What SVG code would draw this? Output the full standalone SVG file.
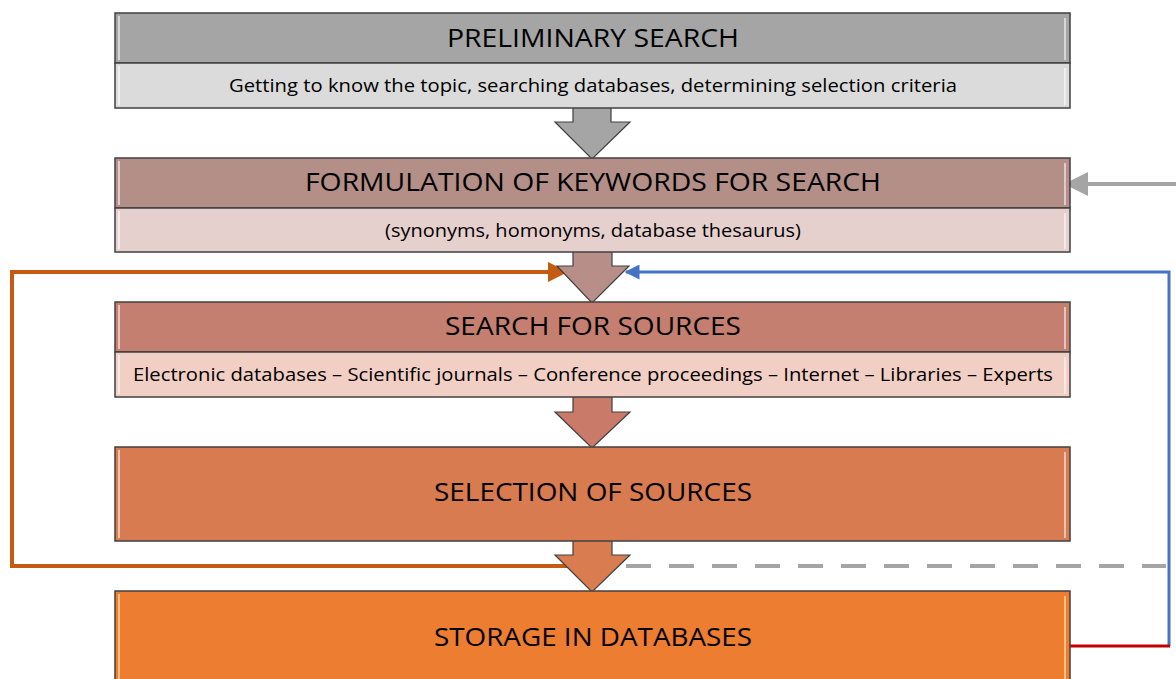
<svg xmlns="http://www.w3.org/2000/svg" width="1176" height="679" viewBox="0 0 1176 679">
<style>
.box{stroke:#404040;stroke-width:1.5}
.hl{fill:#ffffff;opacity:0.55}
.h{font-family:"Open Sans","Noto Sans",sans-serif;font-size:25px;fill:#000000;text-anchor:middle}
.s{font-family:"Open Sans","Noto Sans",sans-serif;font-size:18px;fill:#000000;text-anchor:middle}
.arr{stroke:#404040;stroke-width:1.2}
</style>
<defs>
<marker id="mGray" markerWidth="6" markerHeight="6" refX="5" refY="3" orient="auto" markerUnits="strokeWidth"><path d="M0,0 L6,3 L0,6 Z" fill="#a5a5a5"/></marker>
<marker id="mOr" markerWidth="5" markerHeight="5" refX="4.5" refY="2.5" orient="auto" markerUnits="strokeWidth"><path d="M0,0 L5,2.5 L0,5 Z" fill="#c55a11"/></marker>
<marker id="mBl" markerWidth="5" markerHeight="5" refX="4.5" refY="2.5" orient="auto" markerUnits="strokeWidth"><path d="M0,0 L5,2.5 L0,5 Z" fill="#4472c4"/></marker>
</defs>

<g id="connectors">
<line x1="1176" y1="184" x2="1068" y2="184" stroke="#a5a5a5" stroke-width="4" marker-end="url(#mGray)"/>
<polyline points="567,566 12,566 12,272 566,272" fill="none" stroke="#c55a11" stroke-width="4" marker-end="url(#mOr)"/>
<polyline points="1169,646 1169,272 626,272" fill="none" stroke="#4472c4" stroke-width="3" marker-end="url(#mBl)"/>
<line x1="1070" y1="646" x2="1170" y2="646" stroke="#c00000" stroke-width="3"/>
<line x1="626" y1="566" x2="1166" y2="566" stroke="#a5a5a5" stroke-width="4" stroke-dasharray="25,18"/>
</g>

<g id="arrow1">
<polygon class="arr" points="573,106 611,106 611,122 630,122 592,159 555,122 573,122" fill="#a5a5a5"/>
</g>
<g id="arrow2">
<polygon class="arr" points="573,250 612,250 612,266 629,266 592,303 557,266 573,266" fill="#b88e88"/>
</g>
<g id="arrow3">
<polygon class="arr" points="573,395 612,395 612,412 630,412 592,448 555,412 573,412" fill="#c97a68"/>
</g>
<g id="arrow4">
<polygon class="arr" points="573,539 612,539 612,555 630,555 592,592 555,555 573,555" fill="#d97d50"/>
</g>

<g id="node1">
<rect class="box" x="115" y="13" width="955" height="50" fill="#a5a5a5"/>
<rect class="box" x="115" y="63" width="955" height="45" fill="#dbdbdb"/>
<rect class="hl" x="118" y="16" width="2" height="44"/><rect class="hl" x="1064" y="18" width="2" height="42"/>
<rect class="hl" x="118" y="66" width="2" height="39"/><rect class="hl" x="1064" y="68" width="2" height="37"/>
<text class="h" x="593" y="47" textLength="292" lengthAdjust="spacingAndGlyphs">PRELIMINARY SEARCH</text>
<text class="s" x="593" y="92" textLength="728" lengthAdjust="spacingAndGlyphs">Getting to know the topic, searching databases, determining selection criteria</text>
</g>

<g id="node2">
<rect class="box" x="115" y="158" width="955" height="50" fill="#b38f88"/>
<rect class="box" x="115" y="208" width="955" height="44" fill="#e6d0ce"/>
<rect class="hl" x="118" y="161" width="2" height="44"/><rect class="hl" x="1064" y="163" width="2" height="42"/>
<rect class="hl" x="118" y="211" width="2" height="38"/><rect class="hl" x="1064" y="213" width="2" height="36"/>
<text class="h" x="593" y="191" textLength="576" lengthAdjust="spacingAndGlyphs">FORMULATION OF KEYWORDS FOR SEARCH</text>
<text class="s" x="593" y="237" textLength="416" lengthAdjust="spacingAndGlyphs">(synonyms, homonyms, database thesaurus)</text>
</g>

<g id="node3">
<rect class="box" x="115" y="302" width="955" height="50" fill="#c47f70"/>
<rect class="box" x="115" y="352" width="955" height="45" fill="#f2cfc4"/>
<rect class="hl" x="118" y="305" width="2" height="44"/><rect class="hl" x="1064" y="307" width="2" height="42"/>
<rect class="hl" x="118" y="355" width="2" height="39"/><rect class="hl" x="1064" y="357" width="2" height="37"/>
<text class="h" x="593" y="335" textLength="296" lengthAdjust="spacingAndGlyphs">SEARCH FOR SOURCES</text>
<text class="s" x="593" y="381" textLength="920" lengthAdjust="spacingAndGlyphs">Electronic databases – Scientific journals – Conference proceedings – Internet – Libraries – Experts</text>
</g>

<g id="node4">
<rect class="box" x="115" y="447" width="955" height="94" fill="#d87b50"/>
<rect class="hl" x="118" y="450" width="2" height="88"/><rect class="hl" x="1064" y="452" width="2" height="86"/>
<text class="h" x="593" y="501" textLength="318" lengthAdjust="spacingAndGlyphs">SELECTION OF SOURCES</text>
</g>

<g id="node5">
<rect class="box" x="115" y="591" width="955" height="100" fill="#ed7d31"/>
<rect x="118" y="594" width="2" height="90" fill="#ffd090" opacity="0.8"/><rect x="1064" y="596" width="2" height="88" fill="#ffd090" opacity="0.8"/>
<text class="h" x="593" y="646" textLength="318" lengthAdjust="spacingAndGlyphs">STORAGE IN DATABASES</text>
</g>
</svg>
